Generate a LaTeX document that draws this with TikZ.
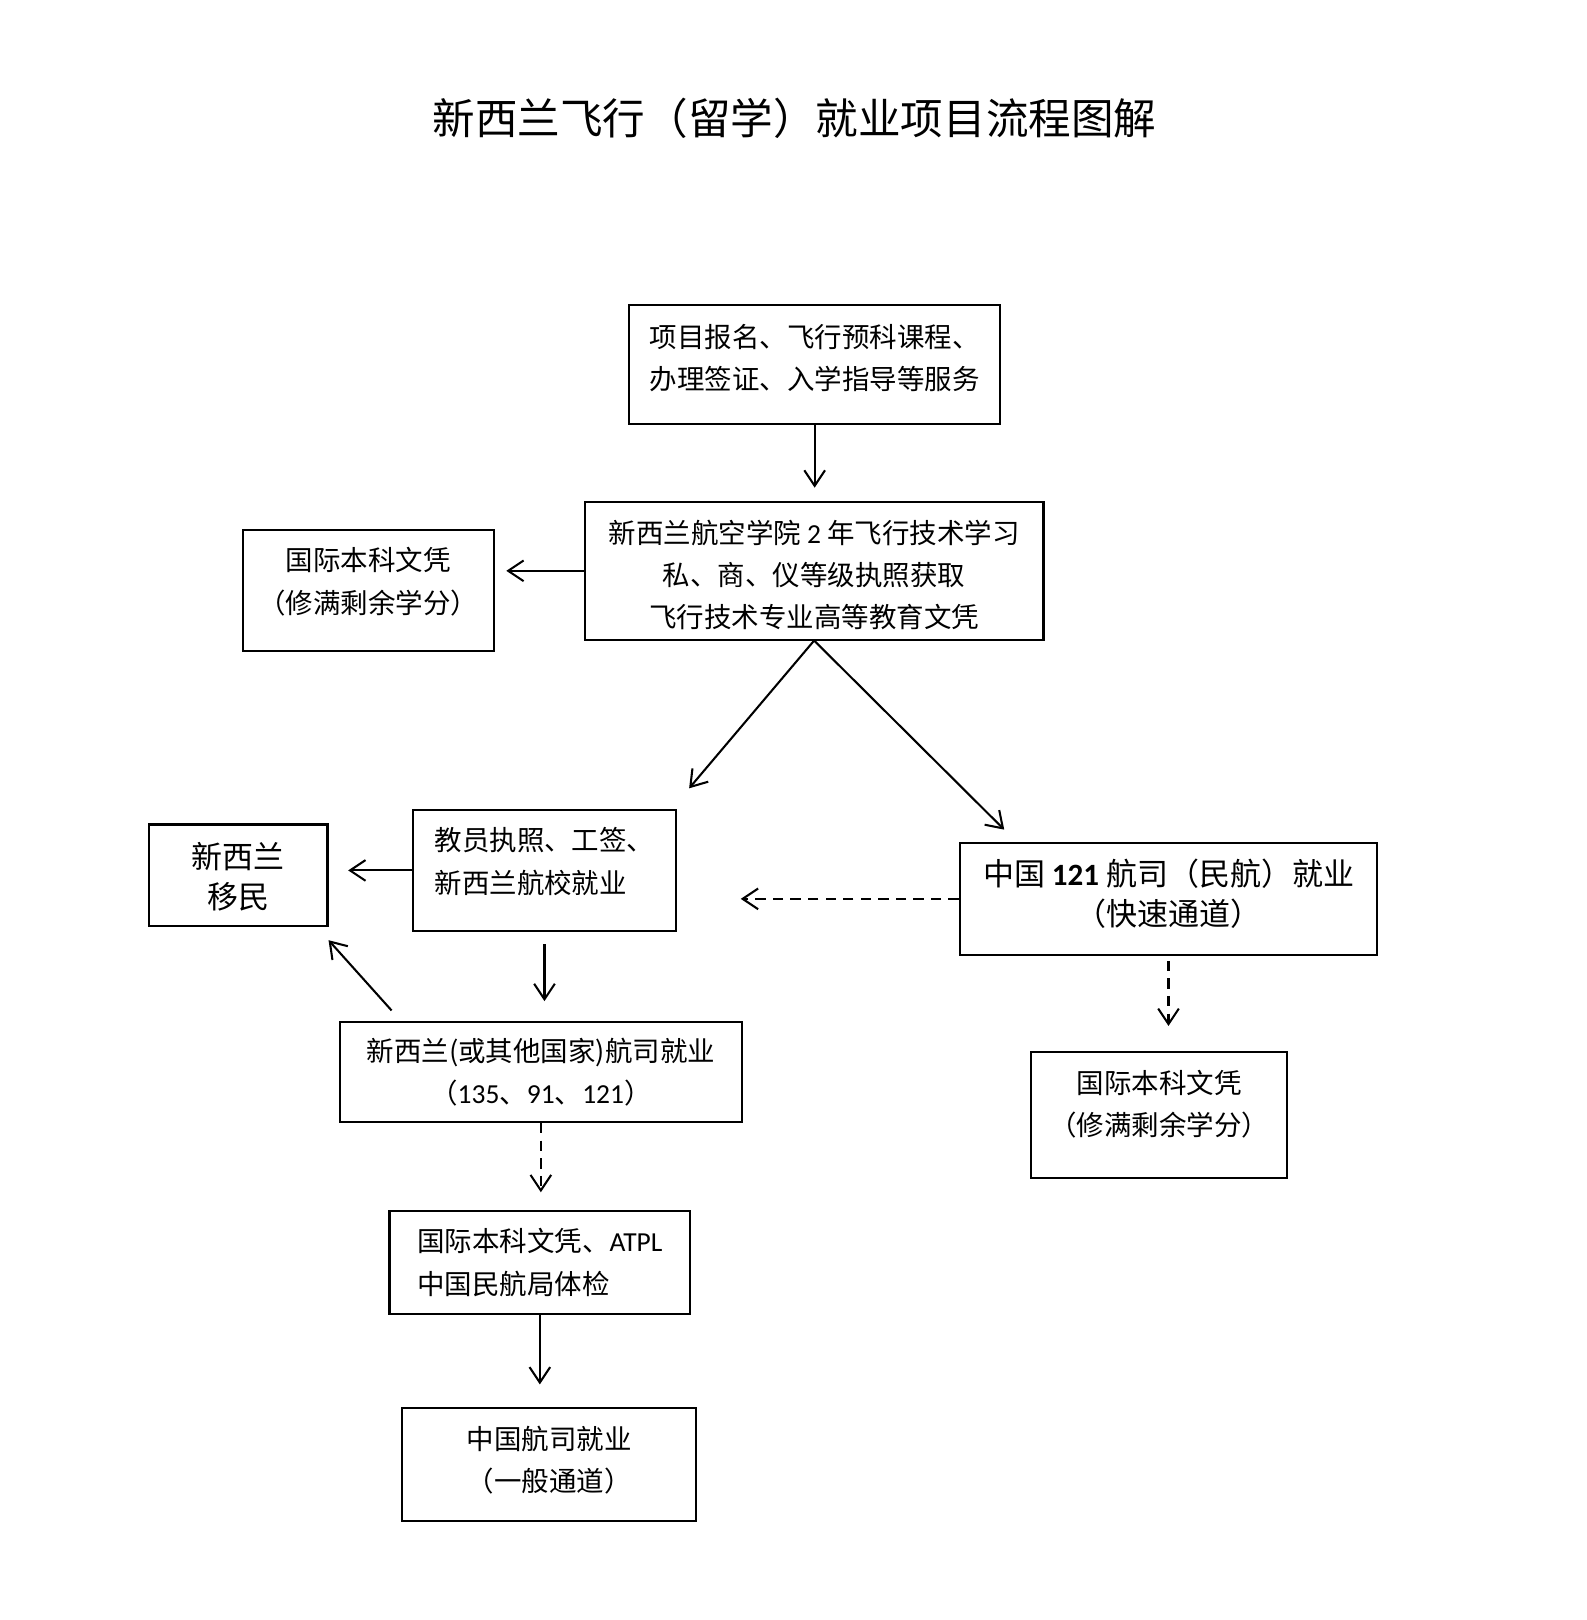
\documentclass[tikz,border=0pt]{standalone}
\usepackage{fontspec}
\setmainfont{Carlito}
\newfontfamily\cjk[Kerning=Off]{Noto Sans CJK SC}
\newcommand{\lat}[1]{{\rmfamily #1}}
% lines of a box, centred or flush left, with some room kept below
\newcommand{\clines}[2][0pt]{\vbox{\let\\\cr\halign{\hfil##\hfil\cr#2\crcr}\kern#1}}
\newcommand{\llines}[2][0pt]{\vbox{\let\\\cr\halign{##\hfil\cr#2\crcr}\kern#1}}
\usetikzlibrary{arrows.meta}
\usetikzlibrary{calc}

\begin{document}
\begin{tikzpicture}
[box/.style={draw,line width=1pt,inner sep=0pt,
     font=\cjk\fontsize{13.3}{20.5}\selectfont},
   bigbox/.style={box,font=\cjk\fontsize{15}{19.3}\selectfont},
   heading/.style={font=\cjk\fontsize{20.6}{24}\selectfont},
   arr/.style={-{Straight Barb[length=7.5pt,width=10pt]},line width=1pt},
   darr/.style={arr,dash pattern=on 5pt off 3.5pt}
  ]
 \begin{scope}[x=0.5pt,y=-0.5pt]
 \useasboundingbox[fill=white] (0,0) rectangle (1536,1568);

 \node[heading] (title) at (769,115) {新西兰飞行（留学）就业项目流程图解};

 % main line
 \node[box,minimum width=179.5pt,minimum height=57.5pt] (apply) at (788.5,352.5)
   {\llines[6pt]{项目报名、飞行预科课程、\\办理签证、入学指导等服务}};
 \node[box,minimum width=222pt,minimum height=66.5pt] (school) at (788,552.5)
   {\clines[-4pt]{新西兰航空学院 \lat{2} 年飞行技术学习\\私、商、仪等级执照获取\\飞行技术专业高等教育文凭}};
 \node[box,minimum width=121.5pt,minimum height=58.5pt] (degreeL) at (356.5,571.5)
   {\clines[8.5pt]{国际本科文凭\\（修满剩余学分）}};

 % left branch
 \node[box,minimum width=127pt,minimum height=58.5pt] (instr) at (527,842.5)
   {\llines[8.5pt]{教员执照、工签、\\新西兰航校就业}};
 \node[bigbox,minimum width=86.5pt,minimum height=49pt] (migr) at (230.5,847)
   {\clines[-2pt]{新西兰\\移民}};
 \node[box,minimum width=194.5pt,minimum height=48.5pt] (nzair) at (523.5,1037.5)
   {\clines{新西兰(或其他国家)航司就业\\（\lat{135}、\lat{91}、\lat{121}）}};
 \node[box,minimum width=145.5pt,minimum height=50pt] (atpl) at (522.5,1222)
   {\llines{国际本科文凭、\lat{ATPL}\\中国民航局体检}};
 \node[box,minimum width=142.5pt,minimum height=54.5pt] (cnair) at (531.5,1417.5)
   {\clines[4pt]{中国航司就业\\（一般通道）}};

 % right branch
 \node[bigbox,minimum width=202pt,minimum height=54pt] (fast) at (1131,870)
   {\clines[5pt]{中国 \lat{\bfseries 121} 航司（民航）就业\\（快速通道）}};
 \node[box,minimum width=124pt,minimum height=61pt] (degreeR) at (1122,1079)
   {\clines[10.5pt]{国际本科文凭\\（修满剩余学分）}};

 \coordinate (tipL) at (667,763);
 \coordinate (tipR) at (972,803);
 \coordinate (fromG) at (379,978);
 \coordinate (tipE) at (318,910);

 \draw[arr,shorten >=6.5pt] (apply.south) -- (apply.south |- school.north);
 \draw[arr,shorten >=5.5pt] (school.west) -- (school.west -| degreeL.east);
 \draw[arr] (school.south) -- (tipL);
 \draw[arr] (school.south) -- (tipR);
 \draw[arr,shorten >=9.5pt] (instr.west) -- (instr.west -| migr.east);
 \draw[darr,shorten >=31pt] (fast.west) -- (fast.west -| instr.east);
 \draw[arr,shorten <=6pt,shorten >=9.5pt] (instr.south) -- (instr.south |- nzair.north);
 \draw[arr] (fromG) -- (tipE);
 \draw[darr,shorten >=8.5pt] (nzair.south) -- (nzair.south |- atpl.north);
 \draw[arr,shorten >=11pt] (atpl.south) -- (atpl.south |- cnair.north);
 \draw[darr,shorten <=2.5pt,shorten >=12pt] (fast.south) -- (fast.south |- degreeR.north);

 \end{scope}
\end{tikzpicture}
\end{document}
